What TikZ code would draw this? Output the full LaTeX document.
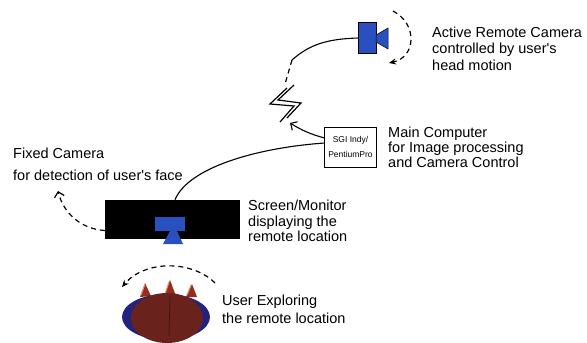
\documentclass[tikz,border=0pt]{standalone}
\usepackage{fontspec}
\setmainfont{Liberation Sans}
\usetikzlibrary{arrows.meta,shapes.geometric}
\definecolor{camblue}{RGB}{40,80,190}
\definecolor{headblue}{RGB}{35,35,125}
\definecolor{hair}{RGB}{105,35,28}
\definecolor{ear}{RGB}{150,45,30}
\definecolor{peach}{RGB}{235,150,115}

\begin{document}
\begin{tikzpicture}[x=1pt, y=-1pt,
    note/.style={font=\fontsize{14.5}{#1}\selectfont, align=left, anchor=west, inner sep=0pt},
    link/.style={line width=1.1pt},
    motion/.style={dash pattern=on 5pt off 4pt, line width=1.2pt}]
    \useasboundingbox (0,0) rectangle (587,343);

    % remote camera on the far side
    \node (cam) [fill=camblue, draw=black, line width=0.5pt, minimum width=18pt, minimum height=31pt, inner sep=0pt] at (367,38) {};
    \draw[fill=camblue, line width=0.5pt] (376,35) -- (388,28) -- (388,49) -- (376,42) -- cycle;
    \node (camtext) [note=16.5] at (432,48.5) {Active Remote Camera\\controlled by user\textquotesingle s\\head motion};
    \coordinate (pantop) at (393,11);
    \coordinate (panend) at (389,63);
    \draw[motion, -{Stealth[length=7pt, width=6pt]}] (pantop) .. controls (418,24) and (416,57) .. (panend);

    % radio link
    \coordinate (relay) at (292,60);
    \coordinate (bolttop) at (285,84);
    \draw[link] (cam.west) .. controls (328,39) and (310,44) .. (relay);
    \draw[motion] (relay) -- (bolttop);
    \draw[line width=1.2pt] (287,88) -- (270,104) -- (294,106) -- (280,122);
    \draw[line width=1.2pt] (294,85) -- (278,100) -- (301,103) -- (287,118);

    % main computer
    \node (sgi) [draw, line width=1pt, minimum width=51pt, minimum height=40pt, align=center, font=\fontsize{8.5}{15}\selectfont] at (350.5,147) {SGI Indy/\\PentiumPro};
    \node (comptext) [note=15] at (388,147) {Main Computer\\for Image processing\\and Camera Control};
    \coordinate (boltfoot) at (290,123);
    \draw[link, -{Straight Barb[length=5pt]}] ([yshift=9pt]sgi.west) to[bend left=8] (boltfoot);

    % local screen
    \node (screen) [fill=black, minimum width=135pt, minimum height=39pt, inner sep=0pt] at (172.5,219.5) {};
    \fill[camblue] (155,217) rectangle (185,231);
    \fill[camblue] (170,231) -- (177,231) -- (183,244) -- (163,244) -- cycle;
    \node (scrtext) [note=15.5] at (248,221) {Screen/Monitor\\displaying the\\remote location};
    \draw[link] ([yshift=4pt]sgi.west) .. controls (255,148) and (188,168) .. ([xshift=2.5pt]screen.north);

    % fixed camera
    \node (fixtext) [note=16] at (13,164) {Fixed Camera\\[6pt]for detection of user\textquotesingle s face};
    \coordinate (fixcam) at (58,191);
    \draw[motion, -{Straight Barb[length=5pt]}] ([yshift=-11pt]screen.west) .. controls (80,229) and (63,212) .. (fixcam);

    % user seen from above
    \fill[ear] (140,297) -- (145,283) -- (151,296) -- cycle;
    \fill[ear] (164,296) -- (170,280) -- (176,296) -- cycle;
    \fill[ear] (186,297) -- (192,284) -- (197,297) -- cycle;
    \draw[peach, line width=1pt] (141,295) -- (145,284);
    \draw[peach, line width=1pt] (165,294) -- (169,282);
    \draw[peach, line width=1pt] (187,295) -- (191,285);
    \node (head) [ellipse, fill=headblue, minimum width=88pt, minimum height=46pt, inner sep=0pt] at (166,317) {};
    \fill[hair] (167,318) ellipse [x radius=36pt, y radius=25pt];
    \draw[line width=0.6pt, hair!50!black] (170,297) -- (169,336);
    \node (usertext) [note=18] at (222,309) {User Exploring\\the remote location};
    \coordinate (lookstart) at (215,283);
    \coordinate (lookend) at (122,287);
    \draw[motion, -{Stealth[length=7pt, width=6pt]}] (lookstart) .. controls (192,260) and (145,260) .. (lookend);
\end{tikzpicture}
\end{document}
